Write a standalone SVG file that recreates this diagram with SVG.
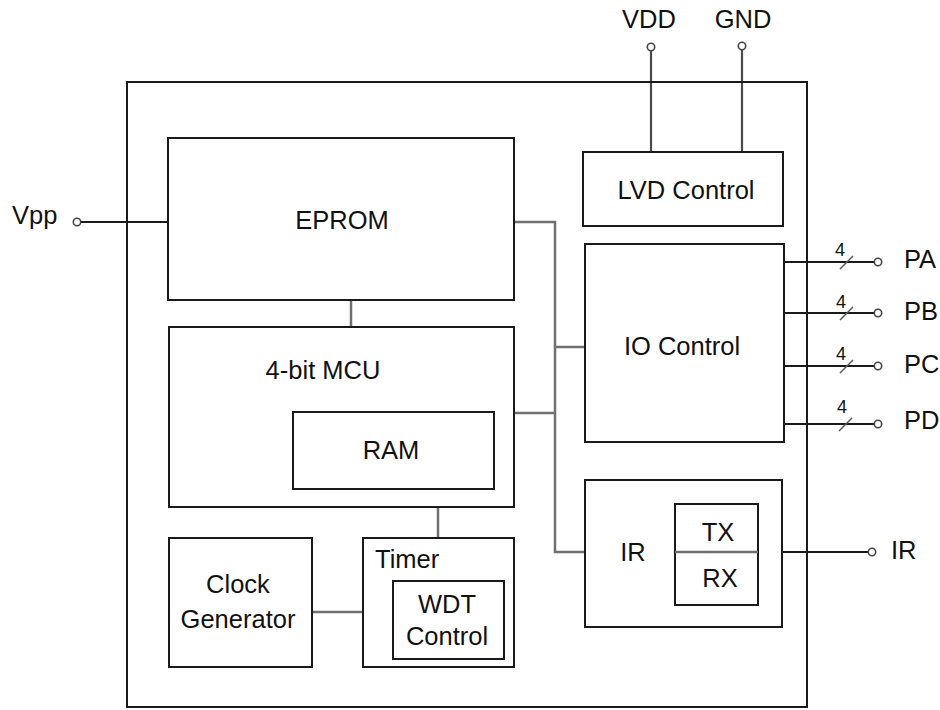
<svg xmlns="http://www.w3.org/2000/svg" width="940" height="710" viewBox="0 0 940 710">
<style>
.box{fill:none;stroke:#1a1a1a;stroke-width:2}
.wire{fill:none;stroke:#707070;stroke-width:2.5}
.pin{fill:none;stroke:#1a1a1a;stroke-width:2}
.pwr{fill:none;stroke:#4a4a4a;stroke-width:2.2}
.term{fill:#fff;stroke:#444;stroke-width:1.6}
.slash{stroke:#555;stroke-width:1.5}
text{font-family:"Liberation Sans",Arial,sans-serif;font-size:25.5px;fill:#111}
.c{text-anchor:middle}
.n{font-size:18px}
</style>
<rect width="940" height="710" fill="#fff"/>
<g id="connectors">
  <path class="pin" d="M81 222H168"/>
  <circle class="term" cx="77" cy="222" r="3.7"/>
  <path class="pwr" d="M651 51V152"/>
  <circle class="term" cx="651" cy="47" r="3.7"/>
  <path class="pwr" d="M742 50V152"/>
  <circle class="term" cx="742" cy="46" r="3.7"/>
  <path class="wire" d="M514 222H555V552H585"/>
  <path class="wire" d="M514 413H555"/>
  <path class="wire" d="M555 347H585"/>
  <path class="wire" d="M351 300V327"/>
  <path class="wire" d="M438 507V538"/>
  <path class="wire" d="M312 612H363"/>
  <path class="pin" d="M784 262H874"/>
  <line class="slash" x1="840" y1="269" x2="853" y2="256"/>
  <circle class="term" cx="878" cy="262" r="3.7"/>
  <path class="pin" d="M784 313H874"/>
  <line class="slash" x1="840" y1="320" x2="853" y2="307"/>
  <circle class="term" cx="878" cy="313" r="3.7"/>
  <path class="pin" d="M784 366H874"/>
  <line class="slash" x1="840" y1="373" x2="853" y2="360"/>
  <circle class="term" cx="878" cy="366" r="3.7"/>
  <path class="pin" d="M784 424H874"/>
  <line class="slash" x1="839" y1="431" x2="852" y2="418"/>
  <circle class="term" cx="878" cy="424" r="3.7"/>
  <path class="pin" d="M782 552H868"/>
  <circle class="term" cx="872" cy="552" r="3.7"/>
</g>
<g id="chip"><rect class="box" x="127" y="82" width="680" height="625"/></g>
<g id="eprom"><rect class="box" x="168" y="138" width="346" height="162"/><text class="c" x="342" y="229">EPROM</text></g>
<g id="mcu"><rect class="box" x="169" y="327" width="345" height="180"/><text class="c" x="323" y="379">4-bit MCU</text></g>
<g id="ram"><rect class="box" x="293" y="412" width="201" height="77"/><text class="c" x="391" y="459">RAM</text></g>
<g id="clock"><rect class="box" x="169" y="538" width="143" height="129"/><text class="c" x="238" y="593">Clock</text><text class="c" x="238" y="628">Generator</text></g>
<g id="timer"><rect class="box" x="363" y="538" width="151" height="129"/><text x="375" y="568">Timer</text></g>
<g id="wdt"><rect class="box" x="393" y="581" width="111" height="78"/><text class="c" x="447" y="613">WDT</text><text class="c" x="447" y="645">Control</text></g>
<g id="lvd"><rect class="box" x="583" y="152" width="200" height="74"/><text class="c" x="686" y="199">LVD Control</text></g>
<g id="io"><rect class="box" x="585" y="244" width="199" height="198"/><text class="c" x="682" y="355">IO Control</text></g>
<g id="ir"><rect class="box" x="585" y="480" width="197" height="147"/><text class="c" x="633" y="561">IR</text></g>
<g id="txrx"><rect class="box" x="675" y="504" width="83" height="101"/><path class="wire" d="M675 552H758"/><text class="c" x="718" y="541">TX</text><text class="c" x="720" y="587">RX</text></g>
<g id="labels">
  <text x="12" y="224">Vpp</text>
  <text class="c" x="649" y="28">VDD</text>
  <text class="c" x="743" y="28">GND</text>
  <text x="904" y="268">PA</text>
  <text x="904" y="320">PB</text>
  <text x="904" y="373">PC</text>
  <text x="904" y="429">PD</text>
  <text x="891" y="559">IR</text>
  <text class="c n" x="840" y="256">4</text>
  <text class="c n" x="841" y="308">4</text>
  <text class="c n" x="841" y="360">4</text>
  <text class="c n" x="842" y="413">4</text>
</g>
</svg>
